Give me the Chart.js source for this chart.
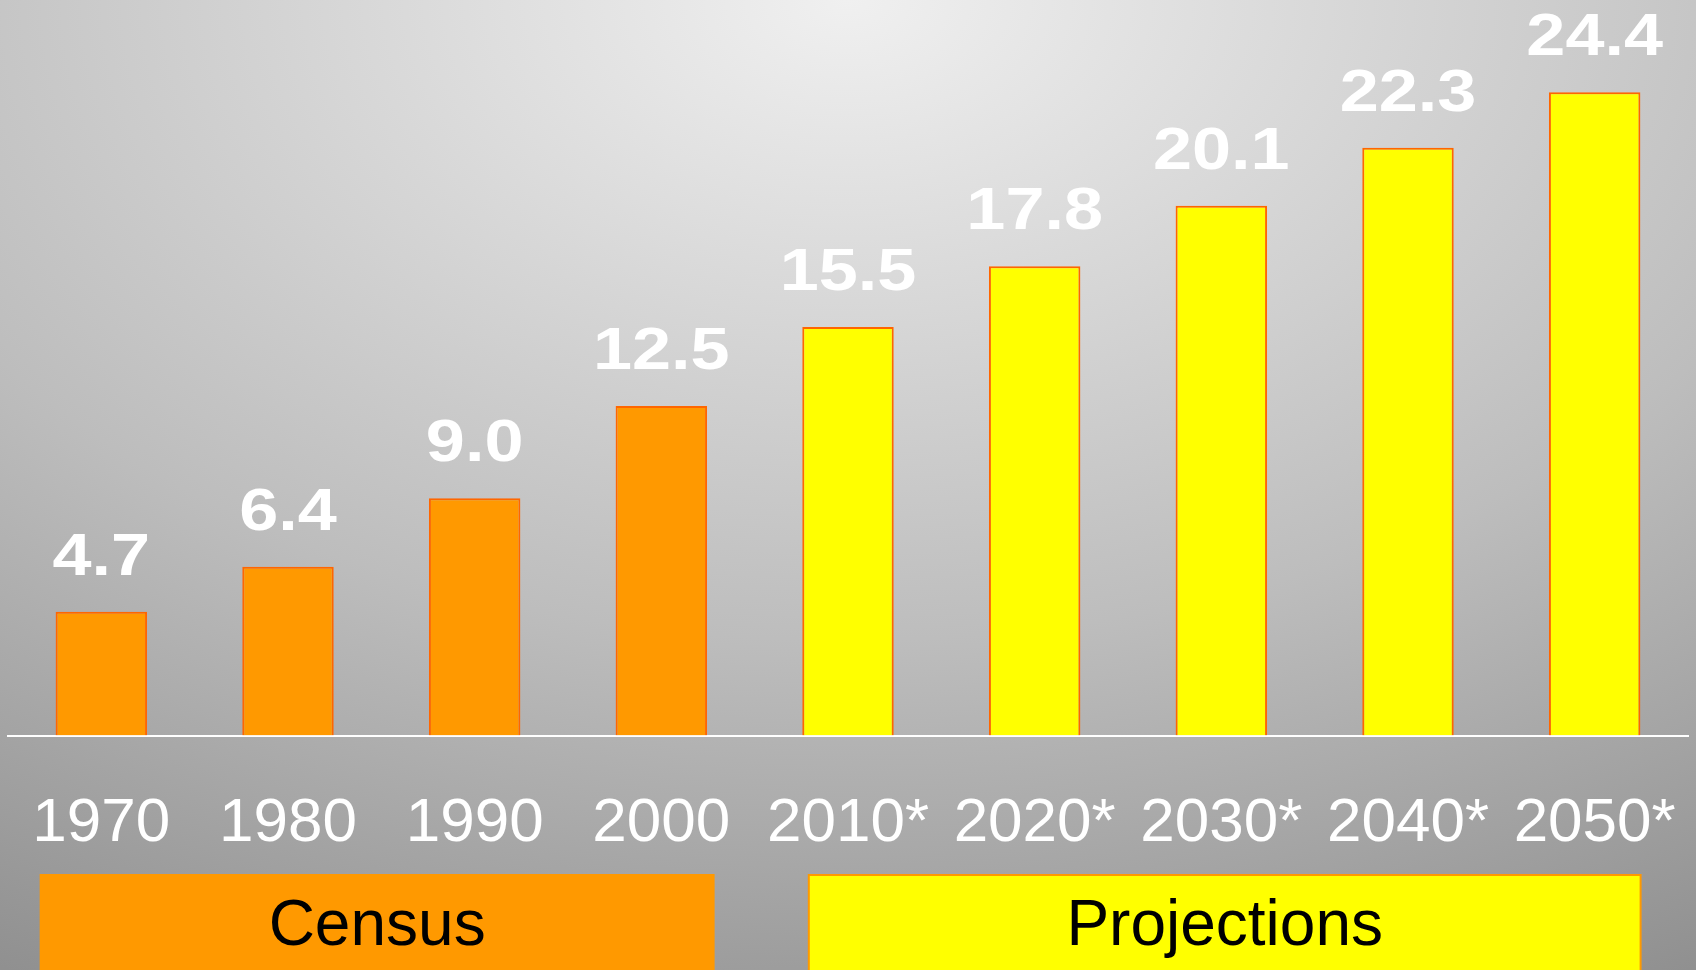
<!DOCTYPE html>
<html>
<head>
<meta charset="utf-8">
<script src="https://cdn.jsdelivr.net/npm/chart.js@4"></script>
<style>
  html, body { margin: 0; padding: 0; }
  body {
    width: 1696px; height: 970px; overflow: hidden;
    background: radial-gradient(ellipse 110% 120% at 50% 0%, #f0f0f0 0%, #bdbdbd 55%, #8a8a8a 100%);
  }
  #wrap { position: relative; width: 1696px; height: 970px; }
</style>
</head>
<body>
<div id="wrap"><canvas id="myChart"></canvas></div>
<script>
// Données
const years = ["1970", "1980", "1990", "2000", "2010*", "2020*", "2030*", "2040*", "2050*"];
const population = [4.7, 6.4, 9.0, 12.5, 15.5, 17.8, 20.1, 22.3, 24.4];
const isProjection = [false, false, false, false, true, true, true, true, true];
const groupNames = ["Census", "Projections"];

const censusFill = "#FF9900";
const projFill = "#FFFF00";
const barBorder = "#FF6600";

// Étiquettes de valeur au-dessus des barres
const valueLabels = {
  id: "valueLabels",
  afterDatasetsDraw(chart) {
    const ctx = chart.ctx;
    const meta = chart.getDatasetMeta(0);
    ctx.save();
    ctx.fillStyle = "#ffffff";
    ctx.font = "bold 60px 'Liberation Sans', Arial, sans-serif";
    ctx.textAlign = "center";
    ctx.textBaseline = "alphabetic";
    meta.data.forEach((bar, i) => {
      ctx.save();
      ctx.translate(bar.x, bar.y - 37);
      ctx.scale(1.17, 1);
      ctx.fillText(population[i].toFixed(1), 0, 0);
      ctx.restore();
    });
    ctx.restore();
  },
};

// Boîtes "Census" / "Projections" sous l'axe
const groupBoxes = {
  id: "groupBoxes",
  afterDraw(chart) {
    const ctx = chart.ctx;
    const x = chart.scales.x;
    const boxes = [
      { from: -0.325, to: 3.28, fill: censusFill, stroke: censusFill, label: groupNames[0] },
      { from: 3.79, to: 8.246, fill: projFill, stroke: "#FF9900", label: groupNames[1] },
    ];
    ctx.save();
    boxes.forEach((b) => {
      const left = x.getPixelForValue(b.from);
      const right = x.getPixelForValue(b.to);
      const top = 875;
      const bottom = 975;
      ctx.fillStyle = b.fill;
      ctx.fillRect(left, top, right - left, bottom - top);
      ctx.strokeStyle = b.stroke;
      ctx.lineWidth = 2;
      ctx.strokeRect(left, top, right - left, bottom - top);
      ctx.fillStyle = "#000000";
      ctx.font = "64px 'Liberation Sans', Arial, sans-serif";
      ctx.textAlign = "center";
      ctx.textBaseline = "middle";
      ctx.fillText(b.label, (left + right) / 2, 927);
    });
    ctx.restore();
  },
};

const ctx = document.getElementById("myChart").getContext("2d");
new Chart(ctx, {
  type: "bar",
  data: {
    labels: years,
    datasets: [
      {
        data: population,
        backgroundColor: isProjection.map((p) => (p ? projFill : censusFill)),
        borderColor: barBorder,
        borderWidth: 2,
        categoryPercentage: 1,
        barPercentage: 0.49,
      },
    ],
  },
  options: {
    responsive: true,
    maintainAspectRatio: false,
    animation: false,
    layout: { padding: { left: 8, right: 8, top: 0, bottom: 109 } },
    plugins: { legend: { display: false }, tooltip: { enabled: false } },
    scales: {
      x: {
        grid: { display: false, drawTicks: true, tickLength: 51 },
        border: { display: true, color: "#ffffff", width: 2 },
        ticks: {
          color: "#ffffff",
          padding: 0,
          autoSkip: false,
          maxRotation: 0,
          font: { family: "'Liberation Sans', Arial, sans-serif", size: 62 },
        },
      },
      y: { display: false, min: 0, max: 27.9 },
    },
  },
  plugins: [valueLabels, groupBoxes],
});
</script>
</body>
</html>
